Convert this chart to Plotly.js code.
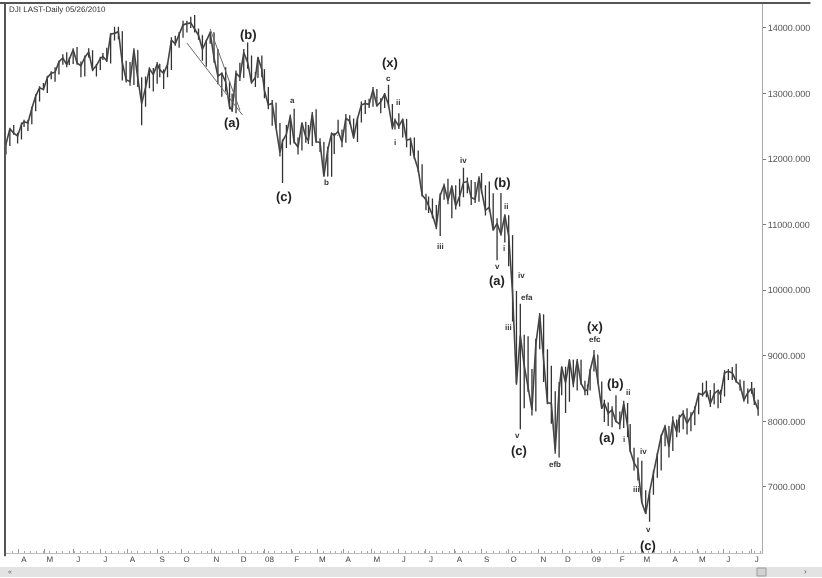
<!DOCTYPE html>
<html><head><meta charset="utf-8">
<script src="https://cdn.plot.ly/plotly-3.0.1.min.js"></script>
<style>html,body{margin:0;padding:0;background:#fff}#chart{width:822px;height:578px}
#chart svg.main-svg{will-change:transform}
#chart svg text{text-rendering:geometricPrecision}</style>
</head><body><div id="chart"></div>
<script>
// Bar dates (each bar = 3 trading days ending on the date)
const dates = [
'2007-03-14','2007-03-19','2007-03-22','2007-03-27','2007-03-30','2007-04-04','2007-04-09','2007-04-12','2007-04-17','2007-04-20',
'2007-04-25','2007-04-30','2007-05-03','2007-05-08','2007-05-11','2007-05-16','2007-05-21','2007-05-24','2007-05-29','2007-06-01',
'2007-06-06','2007-06-11','2007-06-14','2007-06-19','2007-06-22','2007-06-27','2007-07-02','2007-07-05','2007-07-10','2007-07-13',
'2007-07-18','2007-07-23','2007-07-26','2007-07-31','2007-08-03','2007-08-08','2007-08-13','2007-08-16','2007-08-21','2007-08-24',
'2007-08-29','2007-09-04','2007-09-06','2007-09-11','2007-09-14','2007-09-19','2007-09-24','2007-09-27','2007-10-02','2007-10-05',
'2007-10-10','2007-10-15','2007-10-18','2007-10-23','2007-10-26','2007-10-31','2007-11-05','2007-11-08','2007-11-13','2007-11-16',
'2007-11-21','2007-11-26','2007-11-29','2007-12-04','2007-12-07','2007-12-12','2007-12-17','2007-12-20','2007-12-24','2007-12-28',
'2008-01-02','2008-01-07','2008-01-10','2008-01-15','2008-01-18','2008-01-23','2008-01-28','2008-01-31','2008-02-05','2008-02-08',
'2008-02-13','2008-02-19','2008-02-21','2008-02-26','2008-02-29','2008-03-05','2008-03-10','2008-03-13','2008-03-18','2008-03-20',
'2008-03-26','2008-03-31','2008-04-03','2008-04-08','2008-04-11','2008-04-16','2008-04-21','2008-04-24','2008-04-29','2008-05-02',
'2008-05-07','2008-05-12','2008-05-15','2008-05-20','2008-05-23','2008-05-28','2008-06-02','2008-06-05','2008-06-10','2008-06-13',
'2008-06-18','2008-06-23','2008-06-26','2008-07-01','2008-07-03','2008-07-09','2008-07-14','2008-07-17','2008-07-22','2008-07-25',
'2008-07-30','2008-08-04','2008-08-07','2008-08-12','2008-08-15','2008-08-20','2008-08-25','2008-08-28','2008-09-02','2008-09-05',
'2008-09-10','2008-09-15','2008-09-18','2008-09-23','2008-09-26','2008-10-01','2008-10-06','2008-10-09','2008-10-14','2008-10-17',
'2008-10-22','2008-10-27','2008-10-30','2008-11-04','2008-11-07','2008-11-12','2008-11-17','2008-11-20','2008-11-25','2008-11-28',
'2008-12-03','2008-12-08','2008-12-11','2008-12-16','2008-12-19','2008-12-24','2008-12-29','2008-12-31',
'2009-01-06','2009-01-09','2009-01-14','2009-01-16','2009-01-22','2009-01-27','2009-01-30','2009-02-04','2009-02-09','2009-02-12',
'2009-02-17','2009-02-20','2009-02-25','2009-03-02','2009-03-05','2009-03-10','2009-03-13','2009-03-18','2009-03-23','2009-03-26',
'2009-03-31','2009-04-03','2009-04-08','2009-04-13','2009-04-16','2009-04-21','2009-04-24','2009-04-29','2009-05-04','2009-05-07',
'2009-05-12','2009-05-15','2009-05-20','2009-05-26','2009-05-28','2009-06-02','2009-06-05','2009-06-10','2009-06-15','2009-06-18',
'2009-06-23','2009-06-26','2009-07-01','2009-07-06','2009-07-09'];

const highs = [
12330,12260,12480,12520,12400,12560,12600,12600,12800,12990,
13110,13160,13270,13340,13400,13500,13600,13630,13550,13690,
13710,13490,13580,13690,13660,13450,13560,13620,13700,13920,
14020,14020,13950,13500,13480,13690,13660,13250,13260,13400,
13390,13480,13450,13360,13470,13860,13880,13940,14110,14110,
14170,14198,13990,13890,13820,13950,13930,13680,13320,13400,
13180,13000,13350,13470,13680,13780,13580,13330,13560,13580,
13370,13100,12900,12860,12550,12300,12520,12680,12770,12330,
12560,12570,12520,12720,12760,12320,12260,12190,12400,12400,
12600,12450,12690,12670,12620,12640,12880,12900,12920,13100,
13070,12930,13010,13136,12840,12620,12700,12620,12610,12330,
12330,12130,11920,11470,11430,11400,11300,11480,11630,11700,
11600,11600,11700,11867,11720,11680,11650,11740,11790,11600,
11660,11480,11100,11483,11160,11140,10840,9990,9794,9320,
9300,8800,9260,9653,9630,9100,8850,8460,8600,8840,
8830,8950,8940,8950,8940,8620,8560,8800,
9088,9010,8610,8330,8290,8230,8400,8150,8315,8280,
7960,7600,7450,7400,6950,6940,7250,7520,7800,7950,
7930,8080,8030,8100,8170,8200,8140,8230,8430,8590,
8620,8480,8580,8480,8480,8780,8800,8830,8880,8640,
8620,8500,8600,8510,8330];

const lows = [
11980,12070,12200,12370,12240,12300,12490,12430,12530,12730,
12880,13050,13010,13220,13180,13290,13440,13400,13430,13450,
13440,13250,13260,13560,13340,13260,13360,13510,13480,13460,
13810,13830,13200,13170,13120,13130,13100,12517,12800,13080,
13030,13150,13250,13070,13250,13360,13730,13700,13850,13930,
14000,13930,13820,13500,13410,13760,13470,13140,12950,13030,
12760,12720,12700,13190,13240,13380,13150,13100,13240,13250,
12930,12760,12510,12470,12040,11634,12170,12220,12240,12070,
12130,12250,12230,12200,12250,12110,11730,11740,11731,12080,
12400,12180,12250,12530,12310,12260,12560,12690,12780,12800,
12800,12700,12780,12800,12450,12450,12460,12330,12180,12050,
12000,11800,11430,11220,11180,11100,10930,10827,11380,11310,
11100,11230,11280,11420,11480,11300,11330,11350,11480,11140,
11200,10910,10459,10830,10730,10365,9525,8560,7882,8200,
8450,8090,8150,9100,8600,8260,7965,7507,7449,8400,
8130,8300,8520,8470,8560,8400,8400,8470,
8760,8580,8190,7990,7930,7910,7990,7880,7900,7760,
7530,7250,7100,6760,6590,6469,6880,7140,7250,7620,
7450,7550,7760,7830,7880,7800,7850,7940,8110,8380,
8370,8220,8260,8200,8280,8380,8630,8630,8590,8470,
8300,8270,8420,8250,8087];

const closes = [
12133,12226,12461,12397,12354,12530,12570,12552,12773,12962,
13089,13063,13241,13309,13326,13487,13542,13441,13521,13668,
13465,13424,13553,13635,13360,13427,13535,13565,13501,13907,
13918,13943,13473,13212,13182,13658,13236,12846,13090,13379,
13289,13448,13364,13308,13442,13815,13759,13913,14047,14066,
14078,13985,13888,13676,13807,13930,13543,13266,13307,13177,
12799,12743,13311,13249,13625,13474,13167,13245,13550,13366,
13044,12827,12853,12501,12099,12271,12383,12650,12265,12182,
12552,12337,12284,12684,12266,12254,11740,12145,12392,12361,
12422,12263,12626,12577,12325,12619,12825,12849,12832,13058,
12814,12876,12992,12828,12480,12594,12503,12605,12289,12307,
12029,11842,11453,11382,11288,11147,10962,11446,11602,11370,
11583,11284,11432,11642,11659,11417,11386,11715,11516,11220,
11268,10917,11019,10854,11143,10831,9955,8579,9311,8852,
8519,8175,9180,9625,8943,8282,8273,7552,8479,8829,
8591,8934,8565,8924,8579,8468,8483,8776,
9015,8599,8200,8281,8123,8174,8000,7957,8270,7932,
7553,7366,7271,6763,6594,6926,7224,7486,7776,7924,
7609,8017,7837,8058,8125,7969,8076,8185,8426,8409,
8469,8268,8422,8473,8404,8740,8763,8739,8613,8555,
8323,8438,8504,8324,8183];

const opens = closes.map((c, i) => (i === 0 ? 12075 : closes[i - 1]));

// Month axis
const monthStarts = ['2007-04-02','2007-05-01','2007-06-01','2007-07-02','2007-08-01','2007-09-04','2007-10-01','2007-11-01','2007-12-03',
'2008-01-02','2008-02-01','2008-03-03','2008-04-01','2008-05-01','2008-06-02','2008-07-01','2008-08-01','2008-09-02','2008-10-01','2008-11-03','2008-12-01',
'2009-01-02','2009-02-02','2009-03-02','2009-04-01','2009-05-01','2009-06-01','2009-07-01'];
const monthLabels = ['A','M','J','J','A','S','O','N','D','08','F','M','A','M','J','J','A','S','O','N','D','09','F','M','A','M','J','J'];
const priceTicks = [7000,8000,9000,10000,11000,12000,13000,14000];
const holidays = ['2007-04-06','2007-05-28','2007-07-04','2007-09-03','2007-11-22','2007-12-25','2008-01-01','2008-01-21','2008-02-18',
'2008-03-21','2008-05-26','2008-07-04','2008-09-01','2008-11-27','2008-12-25','2009-01-01','2009-01-19','2009-02-16','2009-04-10','2009-05-25','2009-07-03'];

// Wedge trendlines
const wedgeLowerDates = ['2007-10-05','2007-12-06'];
const wedgeLowerValues = [13771,12673];
const wedgeUpperDates = ['2007-10-31','2007-12-04'];
const wedgeUpperValues = [13985,12749];

// Elliott wave labels
const waveText = ['(b)','(a)','(c)','a','b','(x)','c','ii','i','iv','iii','(b)','ii','i','v','(a)','iv','efa','iii','v','(c)','efb','(x)','efc','(b)','ii','(a)','i','iv','iii','v','(c)'];
const waveDate = ['2007-12-13','2007-11-26','2008-01-24','2008-02-04','2008-03-12','2008-05-21','2008-05-20','2008-05-30','2008-05-28','2008-08-12','2008-07-17','2008-09-24','2008-09-29','2008-09-25','2008-09-18','2008-09-18','2008-10-15','2008-10-21','2008-10-01','2008-10-10','2008-10-13','2008-11-20','2009-01-07','2009-01-07','2009-01-30','2009-02-12','2009-01-21','2009-02-09','2009-03-03','2009-02-24','2009-03-09','2009-03-09'];
const waveValue = [13908,12551,11423,12887,11636,13481,13237,12856,12246,11972,10675,11636,11270,10630,10370,10142,10218,9897,9425,7778,7549,7336,9440,9242,8571,8434,7762,7717,7534,6969,6359,6115];

const FONT = 'Liberation Sans, Arial, sans-serif';
const barColor = '#333333';

const traces = [
  {type:'scatter', mode:'lines', x:dates, y:closes, line:{color:'#444', width:1.6}, hoverinfo:'skip'},
  {type:'ohlc', x:dates, open:opens, high:highs, low:lows, close:closes,
   increasing:{line:{color:barColor, width:1.3}}, decreasing:{line:{color:barColor, width:1.3}},
   tickwidth:0.25, hoverinfo:'skip'},
  {type:'scatter', mode:'lines', x:wedgeLowerDates, y:wedgeLowerValues, line:{color:'#6a6a6a', width:1}, hoverinfo:'skip'},
  {type:'scatter', mode:'lines', x:wedgeUpperDates, y:wedgeUpperValues, line:{color:'#6a6a6a', width:1}, hoverinfo:'skip'}
];

const annotations = waveText.map((t, i) => {
  const major = t.startsWith('(');
  return {x:waveDate[i], y:waveValue[i], xref:'x', yref:'y', text:'<b>' + t + '</b>', showarrow:false,
    xanchor:'center', yanchor:'middle',
    font:{family:FONT, size: major ? 13 : 8, color: major ? '#222222' : '#333333'}};
});
annotations.push({xref:'paper', yref:'paper', x:0.003, y:0.989, xanchor:'left', yanchor:'middle',
  text:'DJI LAST-Daily 05/26/2010', showarrow:false, font:{family:FONT, size:8, color:'#333'}});
annotations.push({xref:'paper', yref:'paper', x:0.007, y:-0.034, xanchor:'center', yanchor:'middle',
  text:'«', showarrow:false, font:{family:FONT, size:7, color:'#666'}});
annotations.push({xref:'paper', yref:'paper', x:1.057, y:-0.034, xanchor:'center', yanchor:'middle',
  text:'›', showarrow:false, font:{family:FONT, size:8, color:'#666'}});

const layout = {
  width:822, height:578,
  margin:{l:5, r:60, t:3, b:25, pad:0},
  paper_bgcolor:'#ffffff', plot_bgcolor:'#ffffff',
  showlegend:false,
  xaxis:{
    type:'date', range:['2007-03-16 06:00','2009-07-14'],
    rangebreaks:[{bounds:['sat','mon']}, {values:holidays}],
    rangeslider:{visible:false},
    tickmode:'array', tickvals:monthStarts, ticktext:monthLabels,
    ticks:'inside', ticklen:4, tickcolor:'#999', tickwidth:1,
    ticklabelshift:5, ticklabelstandoff:-2,
    tickfont:{family:FONT, size:8, color:'#444'},
    minor:{ticks:'inside', ticklen:2, tickcolor:'#aaa', tickmode:'linear', tick0:'2007-03-19', dtick:7*86400000},
    showline:true, linecolor:'#bdbdbd', linewidth:1,
    showgrid:false, zeroline:false, fixedrange:true
  },
  yaxis:{
    side:'right', range:[5993,14381],
    tickmode:'array', tickvals:priceTicks, tickformat:'.3f',
    ticks:'outside', ticklen:3, tickcolor:'#777',
    tickfont:{family:FONT, size:9, color:'#555'},
    showline:true, linecolor:'#aaaaaa', linewidth:1,
    showgrid:false, zeroline:false, fixedrange:true
  },
  shapes:[
    {type:'rect', xref:'paper', yref:'paper', x0:-0.01, x1:1.08, y0:-0.0436, y1:-0.0255, fillcolor:'#e3e3e3', line:{width:0}, layer:'below'},
    {type:'rect', xref:'paper', yref:'paper', x0:0.9934, x1:1.0053, y0:-0.0418, y1:-0.0273, fillcolor:'#d2d2d2', line:{color:'#9a9a9a', width:1}},
    {type:'line', xref:'paper', yref:'paper', x0:-0.01, x1:1.064, y0:1, y1:1, line:{color:'#555', width:2}},
    {type:'line', xref:'paper', yref:'paper', x0:0, x1:0, y0:1, y1:-0.006, line:{color:'#555', width:2}}
  ],
  annotations:annotations
};

Plotly.newPlot('chart', traces, layout, {displayModeBar:false, staticPlot:true});
</script>
</body></html>
